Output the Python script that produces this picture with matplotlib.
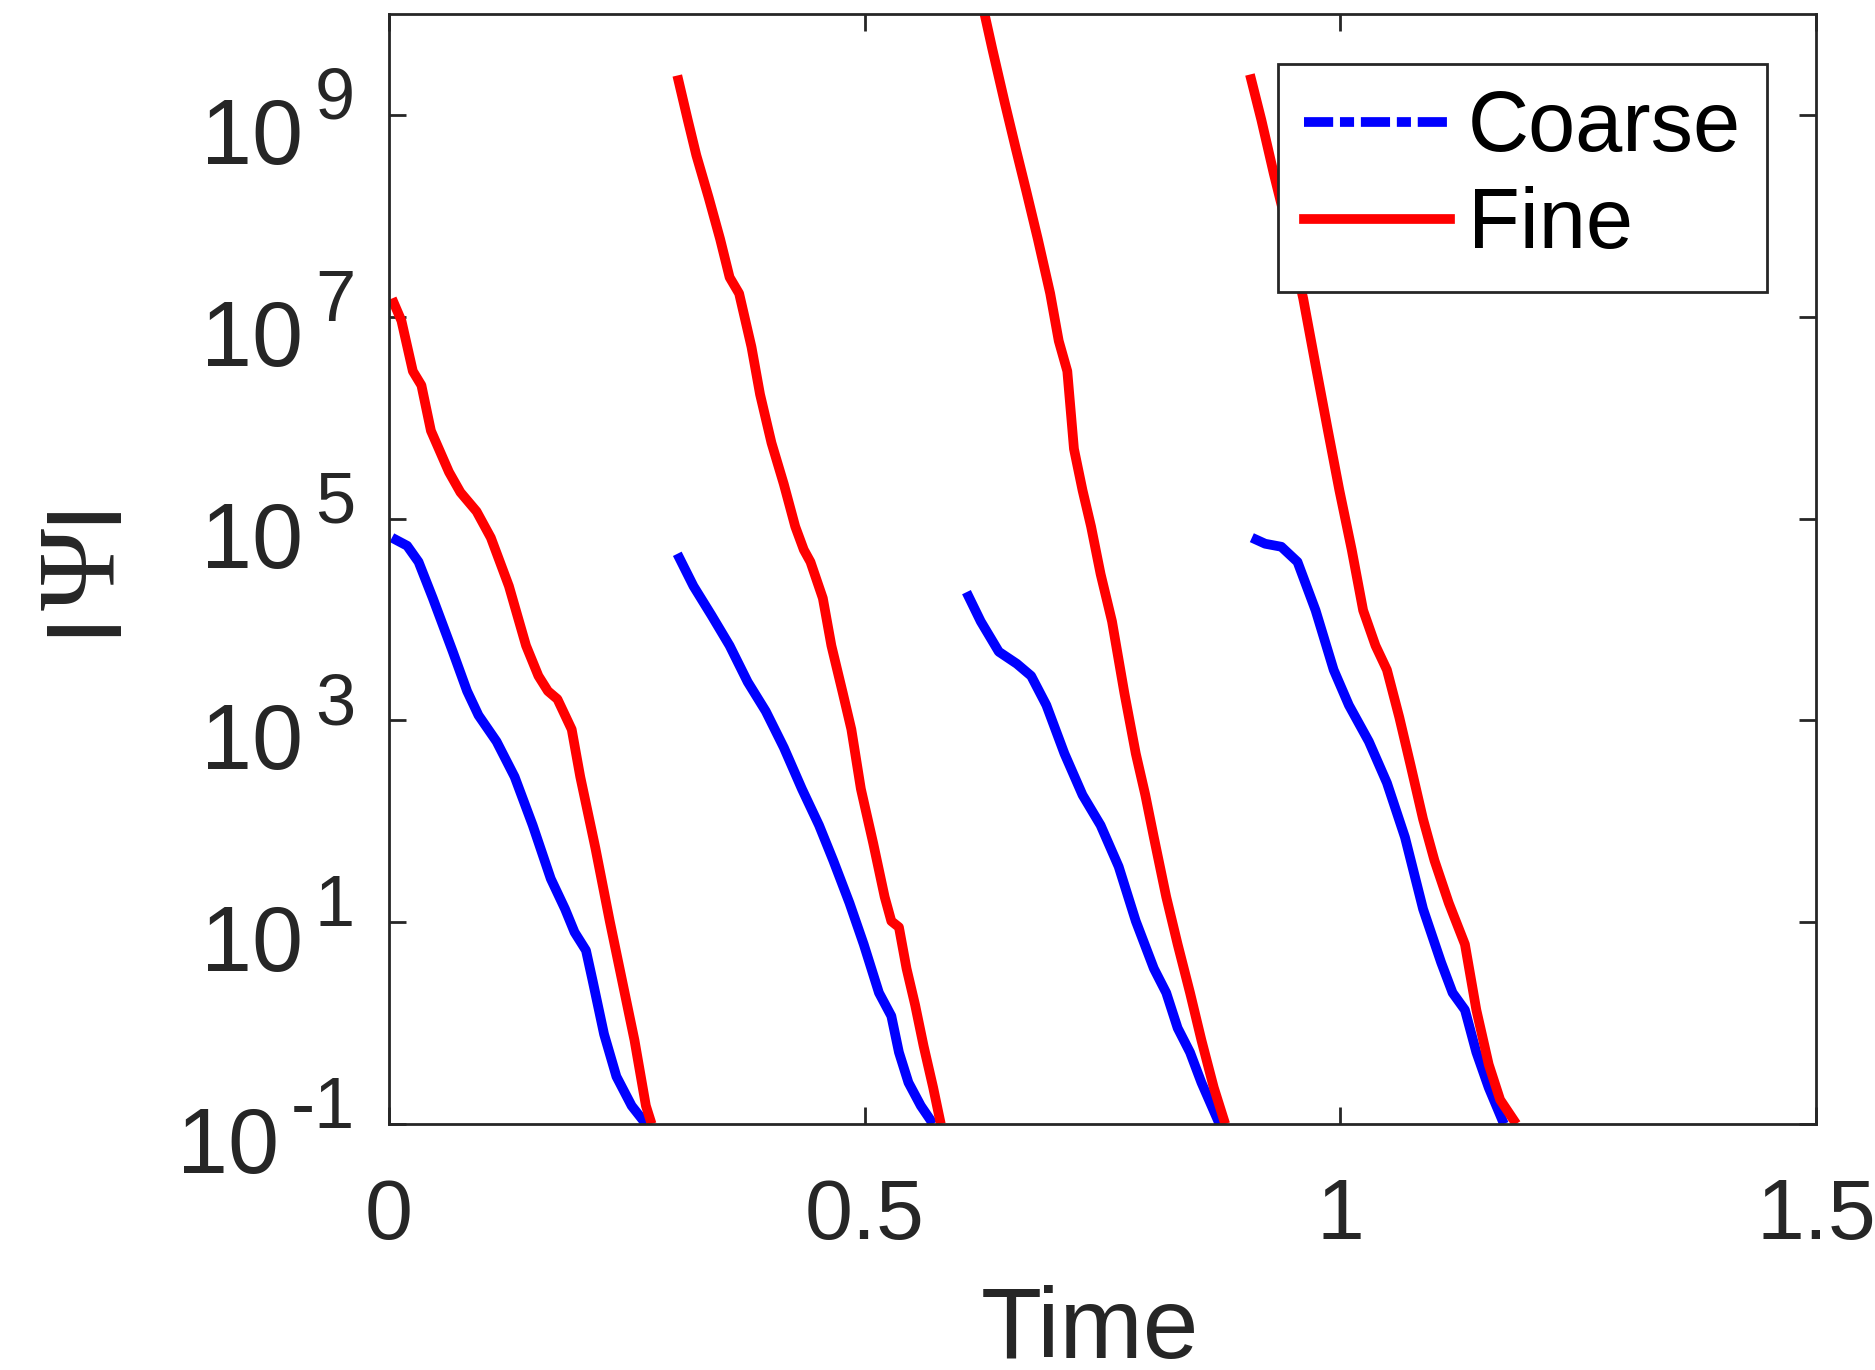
import numpy as np
import matplotlib
matplotlib.use('Agg')
import matplotlib.pyplot as plt
from matplotlib.lines import Line2D
from matplotlib.transforms import ScaledTranslation

plt.rcParams['font.family'] = ['Liberation Sans', 'DejaVu Sans']

# Fine solution, four restarts: time and log10 |Psi|
fine_t = [
    [0.003, 0.013, 0.025, 0.034, 0.044, 0.063, 0.075, 0.092, 0.107, 0.126, 0.144,
     0.157, 0.167, 0.177, 0.192, 0.201, 0.217, 0.232, 0.245, 0.258, 0.270, 0.276],
    [0.303, 0.314, 0.323, 0.336, 0.348, 0.358, 0.368, 0.381, 0.390, 0.402, 0.415,
     0.427, 0.436, 0.443, 0.456, 0.465, 0.477, 0.486, 0.496, 0.509, 0.521, 0.528,
     0.536, 0.544, 0.553, 0.562, 0.572, 0.580],
    [0.626, 0.634, 0.647, 0.659, 0.670, 0.682, 0.695, 0.704, 0.713, 0.720, 0.729,
     0.738, 0.748, 0.760, 0.773, 0.785, 0.795, 0.804, 0.817, 0.829, 0.842, 0.854,
     0.867, 0.879],
    [0.905, 0.917, 0.930, 0.945, 0.961, 0.974, 0.987, 0.999, 1.012, 1.024, 1.037,
     1.049, 1.062, 1.074, 1.087, 1.099, 1.114, 1.131, 1.143, 1.156, 1.168, 1.185],
]
fine_log = [
    [7.18, 6.96, 6.46, 6.32, 5.87, 5.46, 5.26, 5.07, 4.81, 4.33, 3.74,
     3.44, 3.29, 3.21, 2.91, 2.44, 1.73, 1.01, 0.42, -0.17, -0.82, -1.0],
    [9.39, 8.95, 8.60, 8.18, 7.77, 7.39, 7.23, 6.70, 6.23, 5.75, 5.34,
     4.92, 4.69, 4.57, 4.21, 3.74, 3.27, 2.91, 2.32, 1.78, 1.25, 1.01,
     0.95, 0.54, 0.18, -0.23, -0.64, -1.0],
    [10.0, 9.66, 9.13, 8.66, 8.24, 7.77, 7.23, 6.76, 6.46, 5.69, 5.28,
     4.92, 4.45, 3.98, 3.27, 2.67, 2.26, 1.84, 1.25, 0.78, 0.30, -0.17,
     -0.64, -1.0],
    [9.40, 8.95, 8.42, 7.85, 7.18, 6.52, 5.87, 5.28, 4.69, 4.09, 3.74,
     3.50, 3.03, 2.55, 2.02, 1.61, 1.19, 0.78, 0.13, -0.41, -0.76, -1.0],
]

# Coarse solution
coarse_t = [
    [0.003, 0.019, 0.031, 0.046, 0.067, 0.082, 0.094, 0.113, 0.132, 0.151, 0.170,
     0.185, 0.195, 0.207, 0.214, 0.226, 0.239, 0.255, 0.270],
    [0.303, 0.320, 0.339, 0.358, 0.377, 0.396, 0.415, 0.434, 0.452, 0.467, 0.484,
     0.499, 0.515, 0.528, 0.536, 0.546, 0.559, 0.572],
    [0.607, 0.622, 0.641, 0.660, 0.675, 0.691, 0.710, 0.729, 0.748, 0.767, 0.785,
     0.804, 0.817, 0.829, 0.842, 0.854, 0.873],
    [0.907, 0.921, 0.938, 0.955, 0.974, 0.993, 1.009, 1.030, 1.049, 1.068, 1.087,
     1.106, 1.118, 1.131, 1.143, 1.156, 1.172],
]
coarse_log = [
    [4.81, 4.73, 4.57, 4.21, 3.68, 3.29, 3.05, 2.79, 2.44, 1.96, 1.43,
     1.13, 0.90, 0.72, 0.42, -0.11, -0.53, -0.82, -1.0],
    [4.65, 4.33, 4.04, 3.74, 3.38, 3.09, 2.73, 2.32, 1.96, 1.61, 1.19,
     0.78, 0.30, 0.07, -0.29, -0.59, -0.82, -1.0],
    [4.27, 3.98, 3.68, 3.56, 3.44, 3.15, 2.67, 2.26, 1.96, 1.55, 1.01,
     0.54, 0.30, -0.05, -0.29, -0.59, -1.0],
    [4.81, 4.75, 4.72, 4.57, 4.09, 3.50, 3.15, 2.79, 2.38, 1.84, 1.13,
     0.60, 0.30, 0.13, -0.29, -0.64, -1.0],
]

xticks = [0, 0.5, 1, 1.5]
xtick_labels = ['0', '0.5', '1', '1.5']
ytick_exps = [-1, 1, 3, 5, 7, 9]

dark = '#262626'
LW = 7

fig = plt.figure(figsize=(18.75, 13.7), dpi=100)
ax = fig.add_axes([0.2075, 0.1796, 0.761, 0.8102])

for t, lg in zip(coarse_t, coarse_log):
    ax.plot(t, 10.0 ** np.array(lg), color='blue', lw=LW, solid_capstyle='butt')
for t, lg in zip(fine_t, fine_log):
    ax.plot(t, 10.0 ** np.array(lg), color='red', lw=LW, solid_capstyle='butt')

ax.set_yscale('log')
ax.set_xlim(0, 1.5)
ax.set_ylim(1e-1, 1e10)
ax.set_xticks(xticks)
ax.set_xticklabels(xtick_labels)
ax.set_yticks([10.0 ** e for e in ytick_exps])
ax.set_yticklabels([])
ax.yaxis.set_minor_locator(matplotlib.ticker.NullLocator())

for s in ax.spines.values():
    s.set_color(dark)
    s.set_linewidth(2)
ax.tick_params(which='major', direction='in', length=12.5, width=2, colors=dark,
               labelsize=62, top=True, right=True)
ax.tick_params(axis='x', pad=38)

# y tick labels drawn as "10" plus a raised exponent (MATLAB tex style)
def px(dx, dy):
    return ScaledTranslation(dx / 100.0, dy / 100.0, fig.dpi_scale_trans)

renderer = fig.canvas.get_renderer()
ytr = ax.get_yaxis_transform()
for e in ytick_exps:
    sup = ax.text(0, 10.0 ** e, '%d' % e, fontsize=52, color=dark,
                  ha='right', va='baseline', transform=ytr + px(-34, -4))
    w = sup.get_window_extent(renderer).width
    ax.text(0, 10.0 ** e, '10', fontsize=66, color=dark, ha='right',
            va='baseline', transform=ytr + px(-34 - w - 12, -49))

ax.set_xlabel('Time', fontsize=72, color=dark)
ax.xaxis.set_label_coords(0.491, -0.145)

# y label |Psi|: sans bars around a serif Psi
ax.text(-0.1934, 0.5, 'Ψ', fontsize=80, color=dark, rotation=90,
        rotation_mode='anchor', ha='center', va='baseline',
        transform=ax.transAxes, family=['Liberation Serif', 'DejaVu Serif'])
for yb in (0.449, 0.551):
    ax.text(-0.2175, yb, '|', fontsize=56, color=dark, rotation=90,
            ha='center', va='center', transform=ax.transAxes, weight='bold')

handles = [
    Line2D([], [], color='blue', lw=LW, dashes=(3.0, 0.7, 1.45, 0.7)),
    Line2D([], [], color='red', lw=LW),
]
leg = ax.legend(handles, ['Coarse', 'Fine'], loc='upper right',
                bbox_to_anchor=(0.9655, 0.955), fontsize=61, frameon=True,
                fancybox=False, framealpha=1, handlelength=1.72,
                handletextpad=0.22, borderpad=0.3, labelspacing=0.2,
                borderaxespad=0)
leg.get_frame().set_edgecolor(dark)
leg.get_frame().set_linewidth(2)

fig.savefig('out.png', dpi=100)
